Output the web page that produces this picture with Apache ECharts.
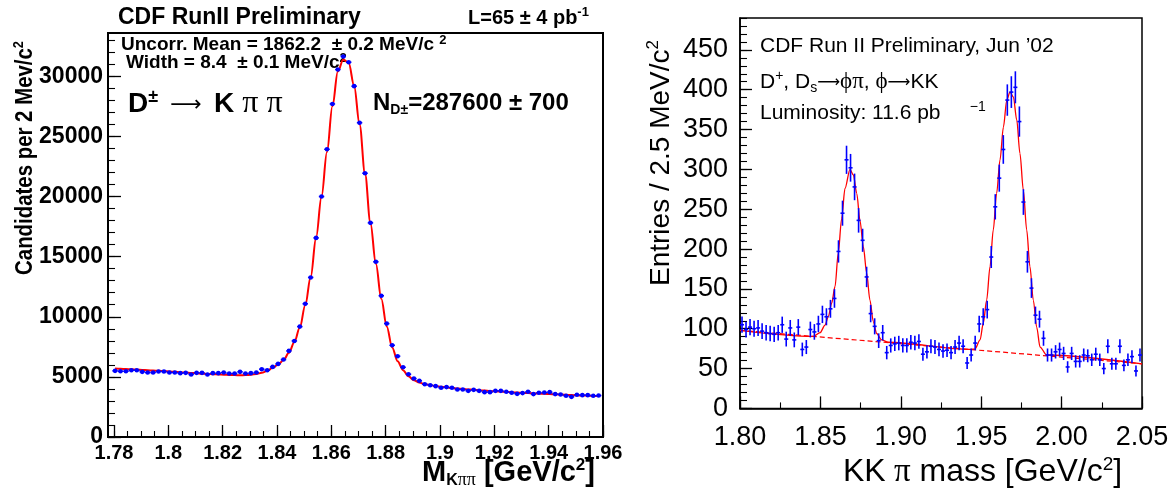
<!DOCTYPE html>
<html><head><meta charset="utf-8">
<script src="https://cdn.jsdelivr.net/npm/echarts@6/dist/echarts.min.js"></script>
<style>html,body{margin:0;padding:0;background:#fff}#c{width:1176px;height:495px}</style>
</head><body><div id="c"></div>
<script>
// ---------------- LEFT PANEL: D± -> K pi pi ----------------
const leftBinStart = 1.7794;   // lower edge of first bin (GeV/c^2)
const leftBinWidth = 0.002;    // 2 MeV bins
const leftCounts = [
  5500,5470,5470,5555,5555,5420,5360,5360,5445,5445,
  5360,5360,5310,5335,5200,5335,5335,5200,5310,5310,
  5360,5280,5280,5420,5280,5310,5360,5640,5555,5830,
  6080,6440,7160,7990,9180,11080,13270,16560,20000,23930,
  27700,30560,31650,31170,29180,26140,21940,17810,14570,11750,
  9430,7630,6720,5800,5220,4860,4670,4390,4310,4230,
  4090,4150,4090,3950,3950,3840,3920,3840,3730,3730,
  3840,3840,3760,3680,3590,3650,3760,3570,3680,3700,
  3730,3570,3540,3430,3340,3510,3480,3480,3430,3450
];
const leftFit = [
  5690,5670,5650,5625,5600,5575,5550,5525,5500,5475,
  5450,5420,5390,5360,5330,5300,5270,5240,5220,5200,
  5180,5160,5150,5140,5150,5180,5240,5340,5500,5750,
  6030,6400,7000,7900,9100,10950,13300,16600,20000,23700,
  27500,30400,31400,31100,29200,26000,21900,17800,14400,11500,
  9200,7450,6300,5560,5050,4730,4530,4400,4310,4240,
  4180,4130,4080,4040,4000,3960,3930,3890,3860,3830,
  3800,3780,3750,3720,3700,3680,3650,3630,3610,3590,
  3570,3550,3530,3510,3490,3470,3450,3440,3420,3400
];
const leftXTicks = [1.78,1.80,1.82,1.84,1.86,1.88,1.90,1.92,1.94,1.96];
const leftXTickLabels = ['1.78','1.8','1.82','1.84','1.86','1.88','1.9','1.92','1.94','1.96'];
const leftYTicks = [0,5000,10000,15000,20000,25000,30000];
const leftYTickLabels = ['0','5000','10000','15000','20000','25000','30000'];

// ---------------- RIGHT PANEL: KK pi ----------------
const rightBinStart = 1.80;
const rightBinWidth = 0.0025;  // 2.5 MeV bins
const rightCounts = [
  105,99,102,100,101,97,95,94,93,95,
  105,87,101,86,102,74,77,99,96,106,
  118,115,125,138,197,245,312,302,278,236,
  211,165,119,103,85,95,70,79,81,82,
  79,79,83,82,84,68,71,78,77,74,
  72,73,70,77,82,78,57,67,82,106,
  115,124,190,253,289,325,387,397,403,360,
  259,184,151,117,112,88,67,67,71,74,
  69,52,69,59,59,67,66,61,68,61,
  50,78,56,56,78,54,61,65,47,67
];
const rightErrors = [
  10.2,9.9,10.1,10,10,9.8,9.7,9.7,9.6,9.7,
  10.2,9.3,10,9.3,10.1,8.6,8.8,9.9,9.8,10.3,
  10.9,10.7,11.2,11.7,14,15.7,17.7,17.4,16.7,15.4,
  14.5,12.8,10.9,10.1,9.2,9.7,8.4,8.9,9,9.1,
  8.9,8.9,9.1,9.1,9.2,8.2,8.4,8.8,8.8,8.6,
  8.5,8.5,8.4,8.8,9.1,8.8,7.5,8.2,9.1,10.3,
  10.7,11.1,13.8,15.9,17,18,19.7,19.9,20.1,19,
  16.1,13.6,12.3,10.8,10.6,9.4,8.2,8.2,8.4,8.6,
  8.3,7.2,8.3,7.7,7.7,8.2,8.1,7.8,8.2,7.8,
  7.1,8.8,7.5,7.5,8.8,7.3,7.8,8.1,6.9,8.2
];
const rightFitX = [1.80,1.8456,1.8498,1.8529,1.8549,1.8570,1.8591,1.8611,1.8632,1.8653,1.8684,1.8705,1.8726,1.8746,1.8767,1.8788,1.8808,1.8829,1.8850,1.8881,1.8922,
  1.9430,1.9461,1.9493,1.9513,1.9534,1.9555,1.9575,1.9596,1.9617,1.9638,1.9659,1.9679,1.9700,1.9721,1.9741,1.9762,1.9783,1.9803,1.9824,1.9845,1.9866,1.9907,2.05];
const rightFitY = [98,90.3,95,104.6,115,132,153,195,238,276,300,293,270,236,203,169.5,136,109,94,86,83,
  74,74.5,86,107,136,178,224,270,312,353,387,397,391,362,320,274,224,178,136,102,77,67,56];
const rightBgX = [1.80, 2.05];
const rightBgY = [98, 56];
const rightXTicks = [1.80,1.85,1.90,1.95,2.00,2.05];
const rightXTickLabels = ['1.80','1.85','1.90','1.95','2.00','2.05'];
const rightYTicks = [0,50,100,150,200,250,300,350,400,450];
const rightYTickLabels = ['0','50','100','150','200','250','300','350','400','450'];

// minor tick positions
function steps(a, b, s) { const r = []; const n = Math.round((b - a) / s); for (let i = 0; i <= n; i++) r.push(+(a + i * s).toFixed(6)); return r; }
const leftXMinor = steps(1.78, 1.96, 0.005);
const leftYMinor = steps(0, 33000, 1000);
const rightXMinor = steps(1.80, 2.05, 0.025);
const rightYMinor = steps(0, 490, 10);

const leftX = leftCounts.map((_, i) => leftBinStart + (i + 0.5) * leftBinWidth);
const rightX = rightCounts.map((_, i) => rightBinStart + (i + 0.5) * rightBinWidth);

function lbl(ticks, labels) { return v => { const i = ticks.findIndex(t => Math.abs(t - v) < 1e-7); return i >= 0 ? labels[i] : ''; }; }

const BLK = '#000';
const LS = 'Liberation Sans';
function majorAxis(o) {
  return Object.assign({
    type: 'value', splitLine: { show: false },
    axisLine: { show: true, onZero: false, lineStyle: { color: BLK, width: o.lw } },
    axisTick: { show: true, inside: true, length: o.tl, customValues: o.ticks, lineStyle: { color: BLK, width: 1.3 } },
    axisLabel: { show: true, customValues: o.ticks, formatter: lbl(o.ticks, o.labels), color: BLK,
      fontFamily: LS, fontSize: o.fs, fontWeight: o.fw, margin: o.margin, hideOverlap: false, showMinLabel: true, showMaxLabel: true }
  }, o.extra);
}
function minorAxis(o) {
  return Object.assign({
    type: 'value', splitLine: { show: false },
    axisLine: { show: false, onZero: false },
    axisTick: { show: true, inside: true, length: o.tl, customValues: o.ticks, lineStyle: { color: BLK, width: 1.1 } },
    axisLabel: { show: false }
  }, o.extra);
}

const chart = echarts.init(document.getElementById('c'), null, { renderer: 'canvas' });

function sup(fs, extra) { return Object.assign({ fontSize: fs, fontFamily: LS, verticalAlign: 'top', lineHeight: fs }, extra || {}); }

const option = {
  animation: false,
  backgroundColor: '#fff',
  grid: [
    { left: 108, top: 33, width: 495, height: 404, show: true, borderColor: BLK, borderWidth: 2, backgroundColor: 'transparent' },
    { left: 740, top: 18, width: 402, height: 390.4, show: true, borderColor: BLK, borderWidth: 1.5, backgroundColor: 'transparent' }
  ],
  xAxis: [
    majorAxis({ lw: 2, tl: 12, ticks: leftXTicks, labels: leftXTickLabels, fs: 20, fw: 'bold', margin: 6,
      extra: { gridIndex: 0, min: 1.7778, max: 1.96, position: 'bottom' } }),
    minorAxis({ tl: 6, ticks: leftXMinor, extra: { gridIndex: 0, min: 1.7778, max: 1.96, position: 'bottom' } }),
    majorAxis({ lw: 1.5, tl: 12, ticks: rightXTicks, labels: rightXTickLabels, fs: 27, fw: 'normal', margin: 16,
      extra: { gridIndex: 1, min: 1.80, max: 2.05, position: 'bottom' } }),
    minorAxis({ tl: 6, ticks: rightXMinor, extra: { gridIndex: 1, min: 1.80, max: 2.05, position: 'bottom' } })
  ],
  yAxis: [
    majorAxis({ lw: 2, tl: 13, ticks: leftYTicks, labels: leftYTickLabels, fs: 23, fw: 'bold', margin: 5,
      extra: { gridIndex: 0, min: 0, max: 33600, position: 'left' } }),
    minorAxis({ tl: 7, ticks: leftYMinor, extra: { gridIndex: 0, min: 0, max: 33600, position: 'left' } }),
    majorAxis({ lw: 1.5, tl: 12, ticks: rightYTicks, labels: rightYTickLabels, fs: 27, fw: 'normal', margin: 12,
      extra: { gridIndex: 1, min: 0, max: 490, position: 'left' } }),
    minorAxis({ tl: 7, ticks: rightYMinor, extra: { gridIndex: 1, min: 0, max: 490, position: 'left' } })
  ],
  series: [
    { type: 'line', xAxisIndex: 0, yAxisIndex: 0, data: leftX.map((x, i) => [x, leftFit[i]]),
      smooth: 0.35, smoothMonotone: 'x', symbol: 'none', lineStyle: { color: '#ff0000', width: 2 }, z: 2 },
    { type: 'custom', xAxisIndex: 0, yAxisIndex: 0, data: leftX.map((x, i) => [x, leftCounts[i]]), z: 3,
      renderItem: (params, api) => {
        const p = api.coord([api.value(0), api.value(1)]);
        const h = api.size([leftBinWidth / 2, 0])[0];
        return { type: 'group', children: [
          { type: 'line', shape: { x1: p[0] - h, y1: p[1], x2: p[0] + h, y2: p[1] }, style: { stroke: '#0000ff', lineWidth: 1.5 } },
          { type: 'circle', shape: { cx: p[0], cy: p[1], r: 2.3 }, style: { fill: '#0000ff' } }
        ] };
      } },
    { type: 'line', xAxisIndex: 2, yAxisIndex: 2, data: rightBgX.map((x, i) => [x, rightBgY[i]]),
      symbol: 'none', lineStyle: { color: '#ff0000', width: 1.2, type: [5, 3] }, z: 2 },
    { type: 'line', xAxisIndex: 2, yAxisIndex: 2, data: rightFitX.map((x, i) => [x, rightFitY[i]]),
      smooth: 0.3, smoothMonotone: 'x', symbol: 'none', lineStyle: { color: '#ff0000', width: 1.3 }, z: 3 },
    { type: 'custom', xAxisIndex: 2, yAxisIndex: 2, data: rightX.map((x, i) => [x, rightCounts[i], rightErrors[i]]), z: 4,
      renderItem: (params, api) => {
        const x = api.value(0), y = api.value(1), e = api.value(2);
        const p = api.coord([x, y]);
        const t = api.coord([x, y + e]);
        const b = api.coord([x, y - e]);
        const h = api.size([rightBinWidth / 2, 0])[0];
        const st = { stroke: '#0000ff', lineWidth: 1.6 };
        return { type: 'group', children: [
          { type: 'line', shape: { x1: t[0], y1: t[1], x2: b[0], y2: b[1] }, style: st },
          { type: 'line', shape: { x1: p[0] - h, y1: p[1], x2: p[0] + h, y2: p[1] }, style: st }
        ] };
      } }
  ],
  graphic: [
    // left panel texts
    { type: 'text', x: 118, y: 18, style: { text: 'CDF RunII Preliminary', fontFamily: LS, fontWeight: 'bold', fontSize: 23, fill: BLK, textAlign: 'left', textVerticalAlign: 'middle' } },
    { type: 'text', x: 468, y: 18, style: { text: '{m|L=65 ± 4 pb}{s|-1}', fill: BLK, textAlign: 'left', textVerticalAlign: 'middle',
      rich: { m: { fontFamily: LS, fontWeight: 'bold', fontSize: 20, lineHeight: 24 }, s: sup(13, { fontWeight: 'bold' }) } } },
    { type: 'text', x: 121, y: 45, style: { text: '{m|Uncorr. Mean = 1862.2  ± 0.2 MeV/c }{s|2}', fill: BLK, textAlign: 'left', textVerticalAlign: 'middle',
      rich: { m: { fontFamily: LS, fontWeight: 'bold', fontSize: 19, lineHeight: 22 }, s: sup(13, { fontWeight: 'bold' }) } } },
    { type: 'text', x: 126, y: 63, style: { text: '{m|Width = 8.4  ± 0.1 MeV/c}{s|2}', fill: BLK, textAlign: 'left', textVerticalAlign: 'middle',
      rich: { m: { fontFamily: LS, fontWeight: 'bold', fontSize: 19, lineHeight: 22 }, s: sup(13, { fontWeight: 'bold' }) } } },
    { type: 'text', x: 128, y: 104, style: { text: '{d|D}{s|±}{g| }{a|⟶}{g| }{d|K}{p| π π}', fill: BLK, textAlign: 'left', textVerticalAlign: 'middle',
      rich: { d: { fontFamily: LS, fontWeight: 'bold', fontSize: 28, lineHeight: 32 }, s: sup(18, { fontWeight: 'bold' }),
        g: { fontFamily: LS, fontSize: 44, lineHeight: 32 },
        a: { fontFamily: 'DejaVu Sans', fontSize: 22, lineHeight: 32, padding: [3, 0, 0, 0] }, p: { fontFamily: 'Liberation Serif', fontSize: 32, lineHeight: 32 } } } },
    { type: 'text', x: 373, y: 103, style: { text: '{m|N}{b|D±}{m|=287600 ± 700}', fill: BLK, textAlign: 'left', textVerticalAlign: 'middle',
      rich: { m: { fontFamily: LS, fontWeight: 'bold', fontSize: 24, lineHeight: 28 }, b: { fontFamily: LS, fontWeight: 'bold', fontSize: 14, verticalAlign: 'bottom', lineHeight: 13 } } } },
    { type: 'text', x: 25, y: 158, rotation: Math.PI / 2, scaleX: 0.85, style: { text: '{m|Candidates per 2 Mev/c}{s|2}', fill: BLK, textAlign: 'center', textVerticalAlign: 'middle',
      rich: { m: { fontFamily: LS, fontWeight: 'bold', fontSize: 24, lineHeight: 28 }, s: sup(15, { fontWeight: 'bold' }) } } },
    { type: 'text', x: 422, y: 473, style: { text: '{m|M}{k|K}{q|ππ}{m| [GeV/c}{s|2}{m|]}', fill: BLK, textAlign: 'left', textVerticalAlign: 'middle',
      rich: { m: { fontFamily: LS, fontWeight: 'bold', fontSize: 29, lineHeight: 32 }, s: sup(17, { fontWeight: 'bold' }),
        k: { fontFamily: LS, fontWeight: 'bold', fontSize: 16, verticalAlign: 'bottom', lineHeight: 16 },
        q: { fontFamily: 'Liberation Serif', fontSize: 18, verticalAlign: 'bottom', lineHeight: 16 } } } },
    // right panel texts
    { type: 'text', x: 760, y: 46, style: { text: 'CDF Run II Preliminary, Jun ’02', fontFamily: LS, fontSize: 21, fill: BLK, textAlign: 'left', textVerticalAlign: 'middle' } },
    { type: 'text', x: 760, y: 82, style: { text: '{m|D}{s|+}{m|, D}{b|s}{a|⟶}{g|ϕπ}{m|, }{g|ϕ}{a|⟶}{m|KK}', fill: BLK, textAlign: 'left', textVerticalAlign: 'middle',
      rich: { m: { fontFamily: LS, fontSize: 21, lineHeight: 26 }, s: sup(14), b: { fontFamily: LS, fontSize: 14, verticalAlign: 'bottom', lineHeight: 14 },
        a: { fontFamily: 'DejaVu Sans', fontSize: 16, lineHeight: 26, padding: [2, 0, 0, 0] }, g: { fontFamily: 'Liberation Serif', fontSize: 23, lineHeight: 26 } } } },
    { type: 'text', x: 760, y: 113, style: { text: '{m|Luminosity: 11.6 pb     }{s|−1}', fill: BLK, textAlign: 'left', textVerticalAlign: 'middle',
      rich: { m: { fontFamily: LS, fontSize: 21, lineHeight: 26 }, s: sup(14) } } },
    { type: 'text', x: 661, y: 163, rotation: Math.PI / 2, style: { text: '{m|Entries / 2.5 MeV/c}{s|2}', fill: BLK, textAlign: 'center', textVerticalAlign: 'middle',
      rich: { m: { fontFamily: LS, fontSize: 28, lineHeight: 32 }, s: sup(17) } } },
    { type: 'text', x: 843, y: 472, style: { text: '{m|KK}{g| π}{m| mass [GeV/c}{s|2}{m|]}', fill: BLK, textAlign: 'left', textVerticalAlign: 'middle',
      rich: { m: { fontFamily: LS, fontSize: 32, lineHeight: 34 }, s: sup(19), g: { fontFamily: 'Liberation Serif', fontSize: 33, lineHeight: 34 } } } }
  ]
};
chart.setOption(option);
</script></body></html>
